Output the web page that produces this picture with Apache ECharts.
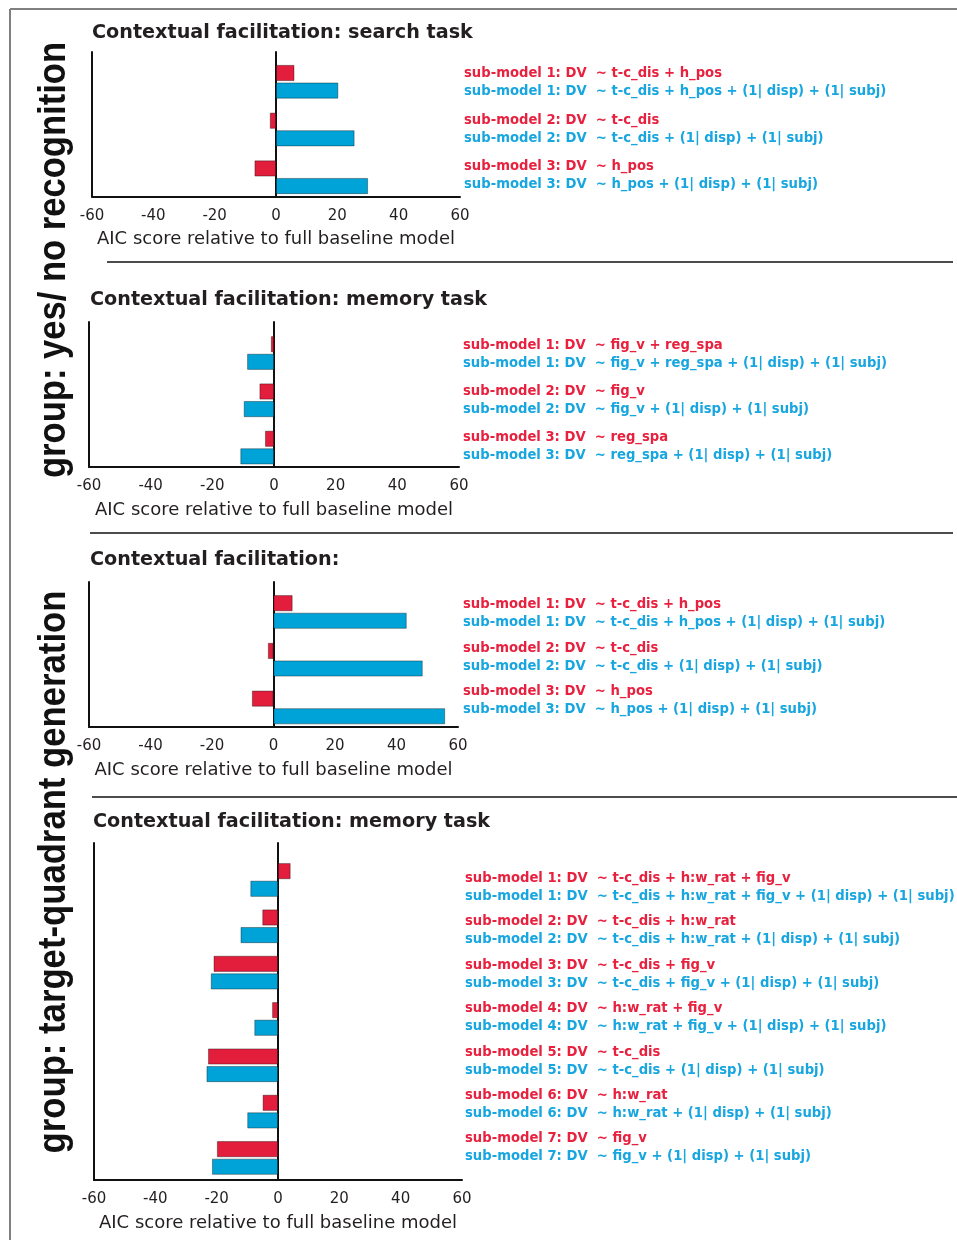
<!DOCTYPE html>
<html>
<head>
<meta charset="utf-8">
<script src="https://cdn.jsdelivr.net/npm/echarts@6/dist/echarts.min.js"></script>
<style>
html,body{margin:0;padding:0;background:#fff;}
#chart{width:957px;height:1240px;}
</style>
</head>
<body>
<div id="chart"></div>
<script>
// ---------- DATA ----------
const panelTitles = [
  'Contextual facilitation: search task',
  'Contextual facilitation: memory task',
  'Contextual facilitation:',
  'Contextual facilitation: memory task'
];
const groupLabels = ['group: yes/ no recognition', 'group: target-quadrant generation'];
const xTicks = [-60, -40, -20, 0, 20, 40, 60];
const xAxisName = 'AIC score relative to full baseline model';

const p1Cats = ['sub-model 1', 'sub-model 2', 'sub-model 3'];
const p1Red  = [6, -2, -7];
const p1Blue = [20.3, 25.6, 30];
const p1RedLabels = [
  'sub-model 1: DV  ~ t-c_dis + h_pos',
  'sub-model 2: DV  ~ t-c_dis',
  'sub-model 3: DV  ~ h_pos'
];
const p1BlueLabels = [
  'sub-model 1: DV  ~ t-c_dis + h_pos + (1| disp) + (1| subj)',
  'sub-model 2: DV  ~ t-c_dis + (1| disp) + (1| subj)',
  'sub-model 3: DV  ~ h_pos + (1| disp) + (1| subj)'
];

const p2Cats = ['sub-model 1', 'sub-model 2', 'sub-model 3'];
const p2Red  = [-1, -4.7, -2.9];
const p2Blue = [-8.7, -9.8, -10.9];
const p2RedLabels = [
  'sub-model 1: DV  ~ fig_v + reg_spa',
  'sub-model 2: DV  ~ fig_v',
  'sub-model 3: DV  ~ reg_spa'
];
const p2BlueLabels = [
  'sub-model 1: DV  ~ fig_v + reg_spa + (1| disp) + (1| subj)',
  'sub-model 2: DV  ~ fig_v + (1| disp) + (1| subj)',
  'sub-model 3: DV  ~ reg_spa + (1| disp) + (1| subj)'
];

const p3Cats = ['sub-model 1', 'sub-model 2', 'sub-model 3'];
const p3Red  = [6.2, -1.8, -7];
const p3Blue = [43.3, 48.5, 55.8];
const p3RedLabels = [
  'sub-model 1: DV  ~ t-c_dis + h_pos',
  'sub-model 2: DV  ~ t-c_dis',
  'sub-model 3: DV  ~ h_pos'
];
const p3BlueLabels = [
  'sub-model 1: DV  ~ t-c_dis + h_pos + (1| disp) + (1| subj)',
  'sub-model 2: DV  ~ t-c_dis + (1| disp) + (1| subj)',
  'sub-model 3: DV  ~ h_pos + (1| disp) + (1| subj)'
];

const p4Cats = ['sub-model 1', 'sub-model 2', 'sub-model 3', 'sub-model 4', 'sub-model 5', 'sub-model 6', 'sub-model 7'];
const p4Red  = [4.1, -5.1, -21, -1.9, -22.8, -5, -19.9];
const p4Blue = [-9, -12.2, -21.9, -7.7, -23.3, -10, -21.5];
const p4RedLabels = [
  'sub-model 1: DV  ~ t-c_dis + h:w_rat + fig_v',
  'sub-model 2: DV  ~ t-c_dis + h:w_rat',
  'sub-model 3: DV  ~ t-c_dis + fig_v',
  'sub-model 4: DV  ~ h:w_rat + fig_v',
  'sub-model 5: DV  ~ t-c_dis',
  'sub-model 6: DV  ~ h:w_rat',
  'sub-model 7: DV  ~ fig_v'
];
const p4BlueLabels = [
  'sub-model 1: DV  ~ t-c_dis + h:w_rat + fig_v + (1| disp) + (1| subj)',
  'sub-model 2: DV  ~ t-c_dis + h:w_rat + (1| disp) + (1| subj)',
  'sub-model 3: DV  ~ t-c_dis + fig_v + (1| disp) + (1| subj)',
  'sub-model 4: DV  ~ h:w_rat + fig_v + (1| disp) + (1| subj)',
  'sub-model 5: DV  ~ t-c_dis + (1| disp) + (1| subj)',
  'sub-model 6: DV  ~ h:w_rat + (1| disp) + (1| subj)',
  'sub-model 7: DV  ~ fig_v + (1| disp) + (1| subj)'
];

// ---------- STYLE / LAYOUT ----------
const RED = '#e31d3c';
const BLUE = '#00a3d8';
const TXT_RED = '#e8213f';
const TXT_BLUE = '#17a6df';
const INK = '#231f20';
const FONT = '"DejaVu Sans", "Liberation Sans", Arial, sans-serif';

const panels = [
  { cats: p1Cats, red: p1Red, blue: p1Blue, rl: p1RedLabels, bl: p1BlueLabels,
    title: { x: 92, y: 24 },
    axes: { left: 92, right: 460, top: 52, bottom: 196.5 },
    bars: { top: 57.9, height: 143.2 },
    labs: { x: 464, top: 59.1, height: 140.2 } },
  { cats: p2Cats, red: p2Red, blue: p2Blue, rl: p2RedLabels, bl: p2BlueLabels,
    title: { x: 90, y: 291 },
    axes: { left: 89, right: 459, top: 322, bottom: 467 },
    bars: { top: 329.4, height: 141.8 },
    labs: { x: 463, top: 331.5, height: 138 } },
  { cats: p3Cats, red: p3Red, blue: p3Blue, rl: p3RedLabels, bl: p3BlueLabels,
    title: { x: 90, y: 551 },
    axes: { left: 89, right: 458, top: 582, bottom: 727 },
    bars: { top: 588.1, height: 143.2 },
    labs: { x: 463, top: 592.3, height: 130.5 } },
  { cats: p4Cats, red: p4Red, blue: p4Blue, rl: p4RedLabels, bl: p4BlueLabels,
    title: { x: 93, y: 813 },
    axes: { left: 94, right: 462, top: 843, bottom: 1180 },
    bars: { top: 856.8, height: 324.3 },
    labs: { x: 465, top: 865.8, height: 303.9 } }
];

const option = {
  animation: false,
  backgroundColor: '#fff',
  title: [], grid: [], xAxis: [], yAxis: [], series: [], graphic: []
};

panels.forEach((p, i) => {
  option.title.push({
    text: panelTitles[i], left: p.title.x, top: p.title.y, padding: 0,
    textStyle: { fontFamily: FONT, fontWeight: 'bold', fontSize: 19.2, color: INK }
  });
  const g0 = option.grid.length;
  const W = p.axes.right - p.axes.left;
  const gridBase = { outerBoundsMode: 'none', containLabel: false };
  // axes grid
  option.grid.push(Object.assign({ left: p.axes.left, width: W, top: p.axes.top, height: p.axes.bottom - p.axes.top }, gridBase));
  // bar grid
  option.grid.push(Object.assign({ left: p.axes.left, width: W, top: p.bars.top, height: p.bars.height }, gridBase));
  // label grid
  option.grid.push(Object.assign({ left: p.labs.x - 24, width: 20, top: p.labs.top, height: p.labs.height }, gridBase));

  option.xAxis.push({
    gridIndex: g0, type: 'value', min: xTicks[0], max: xTicks[xTicks.length - 1],
    interval: xTicks[1] - xTicks[0],
    axisLine: { show: true, onZero: false, lineStyle: { color: '#111', width: 2 } },
    axisTick: { show: false }, splitLine: { show: false },
    axisLabel: { fontFamily: FONT, fontSize: 15, color: INK, margin: 12 },
    name: xAxisName, nameLocation: 'middle', nameGap: 34,
    nameTextStyle: { fontFamily: FONT, fontSize: 18, color: INK }
  });
  option.xAxis.push({
    gridIndex: g0 + 1, type: 'value', min: xTicks[0], max: xTicks[xTicks.length - 1], show: false
  });
  option.xAxis.push({ gridIndex: g0 + 2, type: 'value', show: false });

  const y0 = option.yAxis.length;
  option.yAxis.push({
    gridIndex: g0, type: 'category', data: [''],
    axisLine: { show: true, onZero: true, lineStyle: { color: '#111', width: 2 } },
    axisTick: { show: false }, axisLabel: { show: false }
  });
  option.yAxis.push({
    gridIndex: g0, type: 'category', data: [''], position: 'left',
    axisLine: { show: true, onZero: false, lineStyle: { color: '#111', width: 2 } },
    axisTick: { show: false }, axisLabel: { show: false }
  });
  option.yAxis.push({
    gridIndex: g0 + 1, type: 'category', data: p.cats, inverse: true, show: false
  });
  option.yAxis.push({
    gridIndex: g0 + 2, type: 'category', data: p.cats, inverse: true, position: 'right',
    axisLine: { show: false }, axisTick: { show: false },
    axisLabel: {
      interval: 0, margin: 4, align: 'left',
      formatter: (v, idx) => '{r|' + p.rl[idx] + '}\n{b|' + p.bl[idx] + '}',
      rich: {
        r: { color: TXT_RED, fontFamily: FONT, fontWeight: 'bold', fontSize: 13.2, lineHeight: 18 },
        b: { color: TXT_BLUE, fontFamily: FONT, fontWeight: 'bold', fontSize: 13.2, lineHeight: 18 }
      }
    }
  });

  const barStyle = (c) => ({ color: c, borderColor: 'rgba(0,0,0,0.45)', borderWidth: 0.8 });
  option.series.push({
    type: 'bar', name: 'fixed', xAxisIndex: g0 + 1, yAxisIndex: y0 + 2,
    data: p.red, barWidth: 16, barGap: '10%', itemStyle: barStyle(RED)
  });
  option.series.push({
    type: 'bar', name: 'mixed', xAxisIndex: g0 + 1, yAxisIndex: y0 + 2,
    data: p.blue, barWidth: 16, barGap: '10%', itemStyle: barStyle(BLUE)
  });
});

// frame, separators, group labels
const groupFont = 'bold 38px "Liberation Sans Narrow", "Liberation Sans", Arial, sans-serif';
option.graphic = [
  { type: 'line', shape: { x1: 10, y1: 9, x2: 957, y2: 9 }, style: { stroke: '#808080', lineWidth: 2 } },
  { type: 'line', shape: { x1: 10, y1: 9, x2: 10, y2: 1240 }, style: { stroke: '#808080', lineWidth: 2 } },
  { type: 'line', shape: { x1: 107, y1: 262, x2: 953, y2: 262 }, style: { stroke: '#111', lineWidth: 1.5 } },
  { type: 'line', shape: { x1: 90, y1: 533, x2: 953, y2: 533 }, style: { stroke: '#111', lineWidth: 1.5 } },
  { type: 'line', shape: { x1: 92, y1: 797, x2: 957, y2: 797 }, style: { stroke: '#111', lineWidth: 1.5 } },
  { type: 'text', x: 55, y: 260, rotation: Math.PI / 2, scaleX: 0.91,
    style: { text: groupLabels[0], fill: '#111', font: groupFont,
             textAlign: 'center', textVerticalAlign: 'middle' } },
  { type: 'text', x: 55, y: 872, rotation: Math.PI / 2, scaleX: 0.913,
    style: { text: groupLabels[1], fill: '#111', font: groupFont,
             textAlign: 'center', textVerticalAlign: 'middle' } }
];

const chart = echarts.init(document.getElementById('chart'), null, { renderer: 'canvas' });
chart.setOption(option);
</script>
</body>
</html>
